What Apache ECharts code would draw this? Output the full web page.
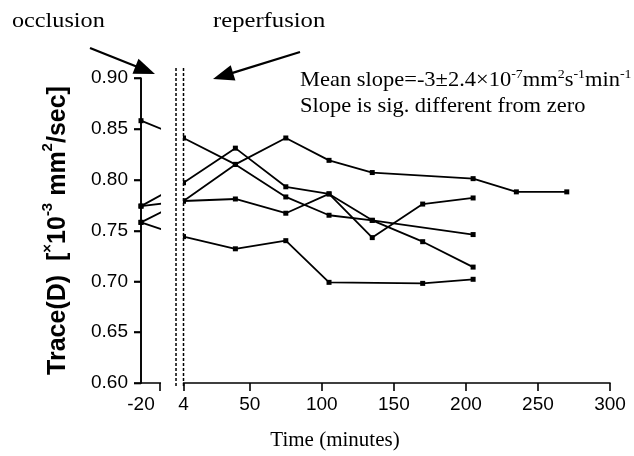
<!DOCTYPE html>
<html><head><meta charset="utf-8">
<script src="https://cdn.jsdelivr.net/npm/echarts@6.0.0/dist/echarts.min.js"></script>
<style>html,body{margin:0;padding:0;background:#fff}#c{width:634px;height:456px}</style>
</head><body><div id="c"></div>
<script>
// Time points (minutes). -20 = occlusion reading, shown on the broken left segment.
const times = [-20, 4, 40, 75, 105, 135, 170, 205, 235, 270];
const subject1 = [0.858, 0.841, 0.815, 0.783, 0.765, 0.760, null, 0.746, null, null];
const subject2 = [0.774, 0.779, 0.815, 0.841, 0.819, 0.807, null, 0.801, 0.788, 0.788];
const subject3 = [0.774, 0.797, 0.831, 0.793, 0.786, 0.760, 0.739, 0.714, null, null];
const subject4 = [0.758, 0.779, 0.781, 0.767, 0.786, 0.743, 0.776, 0.782, null, null];
const subject5 = [0.758, 0.744, 0.732, 0.740, 0.699, null, 0.698, 0.702, null, null];
const xTickLabels = ['-20', '4', '50', '100', '150', '200', '250', '300'];
const yTicks = [0.60, 0.65, 0.70, 0.75, 0.80, 0.85, 0.90];
const yMin = 0.60, yMax = 0.90, yStep = 0.05;

// broken x axis: the left (occlusion) segment is placed at these axis positions
const BROKEN = { occlusionPos: -25.5, leftEnd: -12.3, breakLine: -1.2, rightStart: 4, max: 300 };
function axisX(t) { return t < 0 ? BROKEN.occlusionPos + (t + 20) : t; }

const allSubjects = [subject1, subject2, subject3, subject4, subject5];
const FONT_SANS = '"Liberation Sans", Arial, sans-serif';
const FONT_SERIF = '"Liberation Serif", "Times New Roman", serif';

const labelValues = xTickLabels.map(s => axisX(Number(s)));
const tickValues = [BROKEN.leftEnd].concat(xTickLabels.slice(1).map(Number));

const chart = echarts.init(document.getElementById('c'), null, { renderer: 'canvas' });
const option = {
  animation: false,
  backgroundColor: '#fff',
  grid: { left: 141, right: 24, top: 78, bottom: 72, containLabel: false },
  xAxis: {
    type: 'value', min: BROKEN.occlusionPos, max: BROKEN.max,
    name: 'Time (minutes)', nameLocation: 'middle', nameGap: 47,
    nameTextStyle: { fontFamily: FONT_SERIF, fontSize: 21, color: '#000', padding: [0, 81, 0, 0] },
    axisLine: { show: true, onZero: false, lineStyle: { color: '#000', width: 1.6 } },
    axisTick: { show: true, inside: false, length: 8, customValues: tickValues, lineStyle: { color: '#000', width: 1.6 } },
    axisLabel: {
      customValues: labelValues, margin: 12, color: '#000', fontFamily: FONT_SANS, fontSize: 19,
      formatter: v => xTickLabels[labelValues.indexOf(v)] ?? ''
    },
    splitLine: { show: false }
  },
  yAxis: {
    type: 'value', min: yMin, max: yMax, interval: yStep,
    name: '{b|Trace(D)  [}{s|×}{b|10}{s|-3}{b| mm}{s|2}{b|/sec]}',
    nameLocation: 'middle', nameGap: 65,
    nameTextStyle: {
      fontFamily: FONT_SANS, fontSize: 25, fontWeight: 'bold', color: '#000',
      rich: {
        b: { fontFamily: FONT_SANS, fontSize: 25, fontWeight: 'bold', color: '#000', lineHeight: 36 },
        s: { fontFamily: FONT_SANS, fontSize: 15, fontWeight: 'bold', color: '#000', lineHeight: 15, verticalAlign: 'top' }
      }
    },
    axisLine: { show: true, onZero: false, lineStyle: { color: '#000', width: 1.6 } },
    axisTick: { show: true, inside: false, length: 7, lineStyle: { color: '#000', width: 1.6 } },
    axisLabel: { margin: 13, color: '#000', fontFamily: FONT_SANS, fontSize: 19, formatter: v => v.toFixed(2) },
    splitLine: { show: false }
  },
  series: allSubjects.map((vals, k) => ({
    type: 'line', name: 'Subject ' + (k + 1),
    data: times.map((t, i) => [axisX(t), vals[i]]).filter(d => d[1] !== null),
    symbol: 'rect', symbolSize: 5, showSymbol: true,
    lineStyle: { color: '#000', width: 1.8 },
    itemStyle: { color: '#000' },
    clip: false
  }))
};
chart.setOption(option);

// decorations: y axis line/ticks (re-drawn from the axis scale), break gap, dashed event lines, arrows, texts
const p = (x, y) => chart.convertToPixel({ gridIndex: 0 }, [x, y]);
const yTop = p(0, yMax)[1], yBot = p(0, yMin)[1];
const axX = p(BROKEN.occlusionPos, yMin)[0];
const gapL = p(BROKEN.leftEnd, yMin)[0] + 1;
const gapR = p(BROKEN.rightStart, yMin)[0] - 0.6;
const dash1 = p(BROKEN.breakLine, yMin)[0];
const dash2 = p(BROKEN.rightStart, yMin)[0];

const arrows = [ { from: [90, 48], to: [155, 74] }, { from: [300, 52], to: [213, 79] } ];
function arrowGraphics(a) {
  const dx = a.to[0] - a.from[0], dy = a.to[1] - a.from[1];
  const len = Math.hypot(dx, dy), ux = dx / len, uy = dy / len;
  const L = 21, W = 8;
  const bx = a.to[0] - ux * L, by = a.to[1] - uy * L;
  return [
    { type: 'line', z: 120, shape: { x1: a.from[0], y1: a.from[1], x2: bx + ux * 3, y2: by + uy * 3 }, style: { stroke: '#000', lineWidth: 2.2 } },
    { type: 'polygon', z: 120, shape: { points: [a.to, [bx - uy * W, by + ux * W], [bx + uy * W, by - ux * W]] }, style: { fill: '#000' } }
  ];
}
const yAxisGraphics = [
  { type: 'line', z: 105, shape: { x1: axX, y1: yTop, x2: axX, y2: yBot + 0.8 }, style: { stroke: '#000', lineWidth: 1.6 } }
].concat(yTicks.map(v => {
  const y = Math.round(p(BROKEN.occlusionPos, v)[1]) + 0.5;
  return { type: 'line', z: 105, shape: { x1: axX - 7, y1: y, x2: axX, y2: y }, style: { stroke: '#000', lineWidth: 1.6 } };
}));
const supRich = { s: { fontFamily: FONT_SERIF, fontSize: 13, lineHeight: 12, verticalAlign: 'top', fill: '#000' } };
const graphics = [
  { type: 'rect', z: 100, shape: { x: gapL, y: yTop - 20, width: gapR - gapL, height: yBot - yTop + 26 }, style: { fill: '#fff' } },
  { type: 'line', z: 110, shape: { x1: dash1, y1: yTop - 10, x2: dash1, y2: yBot + 3 }, style: { stroke: '#000', lineWidth: 1.5, lineDash: [3, 2] } },
  { type: 'line', z: 110, shape: { x1: dash2, y1: yTop - 10, x2: dash2, y2: yBot + 3 }, style: { stroke: '#000', lineWidth: 1.5, lineDash: [3, 2] } },
  { type: 'text', z: 120, x: 12, y: 21, scaleX: 1.1, style: { text: 'occlusion', fontFamily: FONT_SERIF, fontSize: 22, fill: '#000', align: 'left', verticalAlign: 'middle' } },
  { type: 'text', z: 120, x: 213, y: 21, scaleX: 1.12, style: { text: 'reperfusion', fontFamily: FONT_SERIF, fontSize: 22, fill: '#000', align: 'left', verticalAlign: 'middle' } },
  { type: 'text', z: 120, x: 300, y: 80, scaleX: 1.07, style: {
      text: 'Mean slope=-3±2.4×10{s|-7}mm{s|2}s{s|-1}min{s|-1}', fontFamily: FONT_SERIF, fontSize: 21, lineHeight: 24,
      fill: '#000', align: 'left', verticalAlign: 'middle', rich: supRich } },
  { type: 'text', z: 120, x: 300, y: 106, scaleX: 1.07, style: { text: 'Slope is sig. different from zero', fontFamily: FONT_SERIF, fontSize: 21, fill: '#000', align: 'left', verticalAlign: 'middle' } }
].concat(yAxisGraphics, arrowGraphics(arrows[0]), arrowGraphics(arrows[1]));
chart.setOption({ graphic: graphics });
</script>
</body></html>
